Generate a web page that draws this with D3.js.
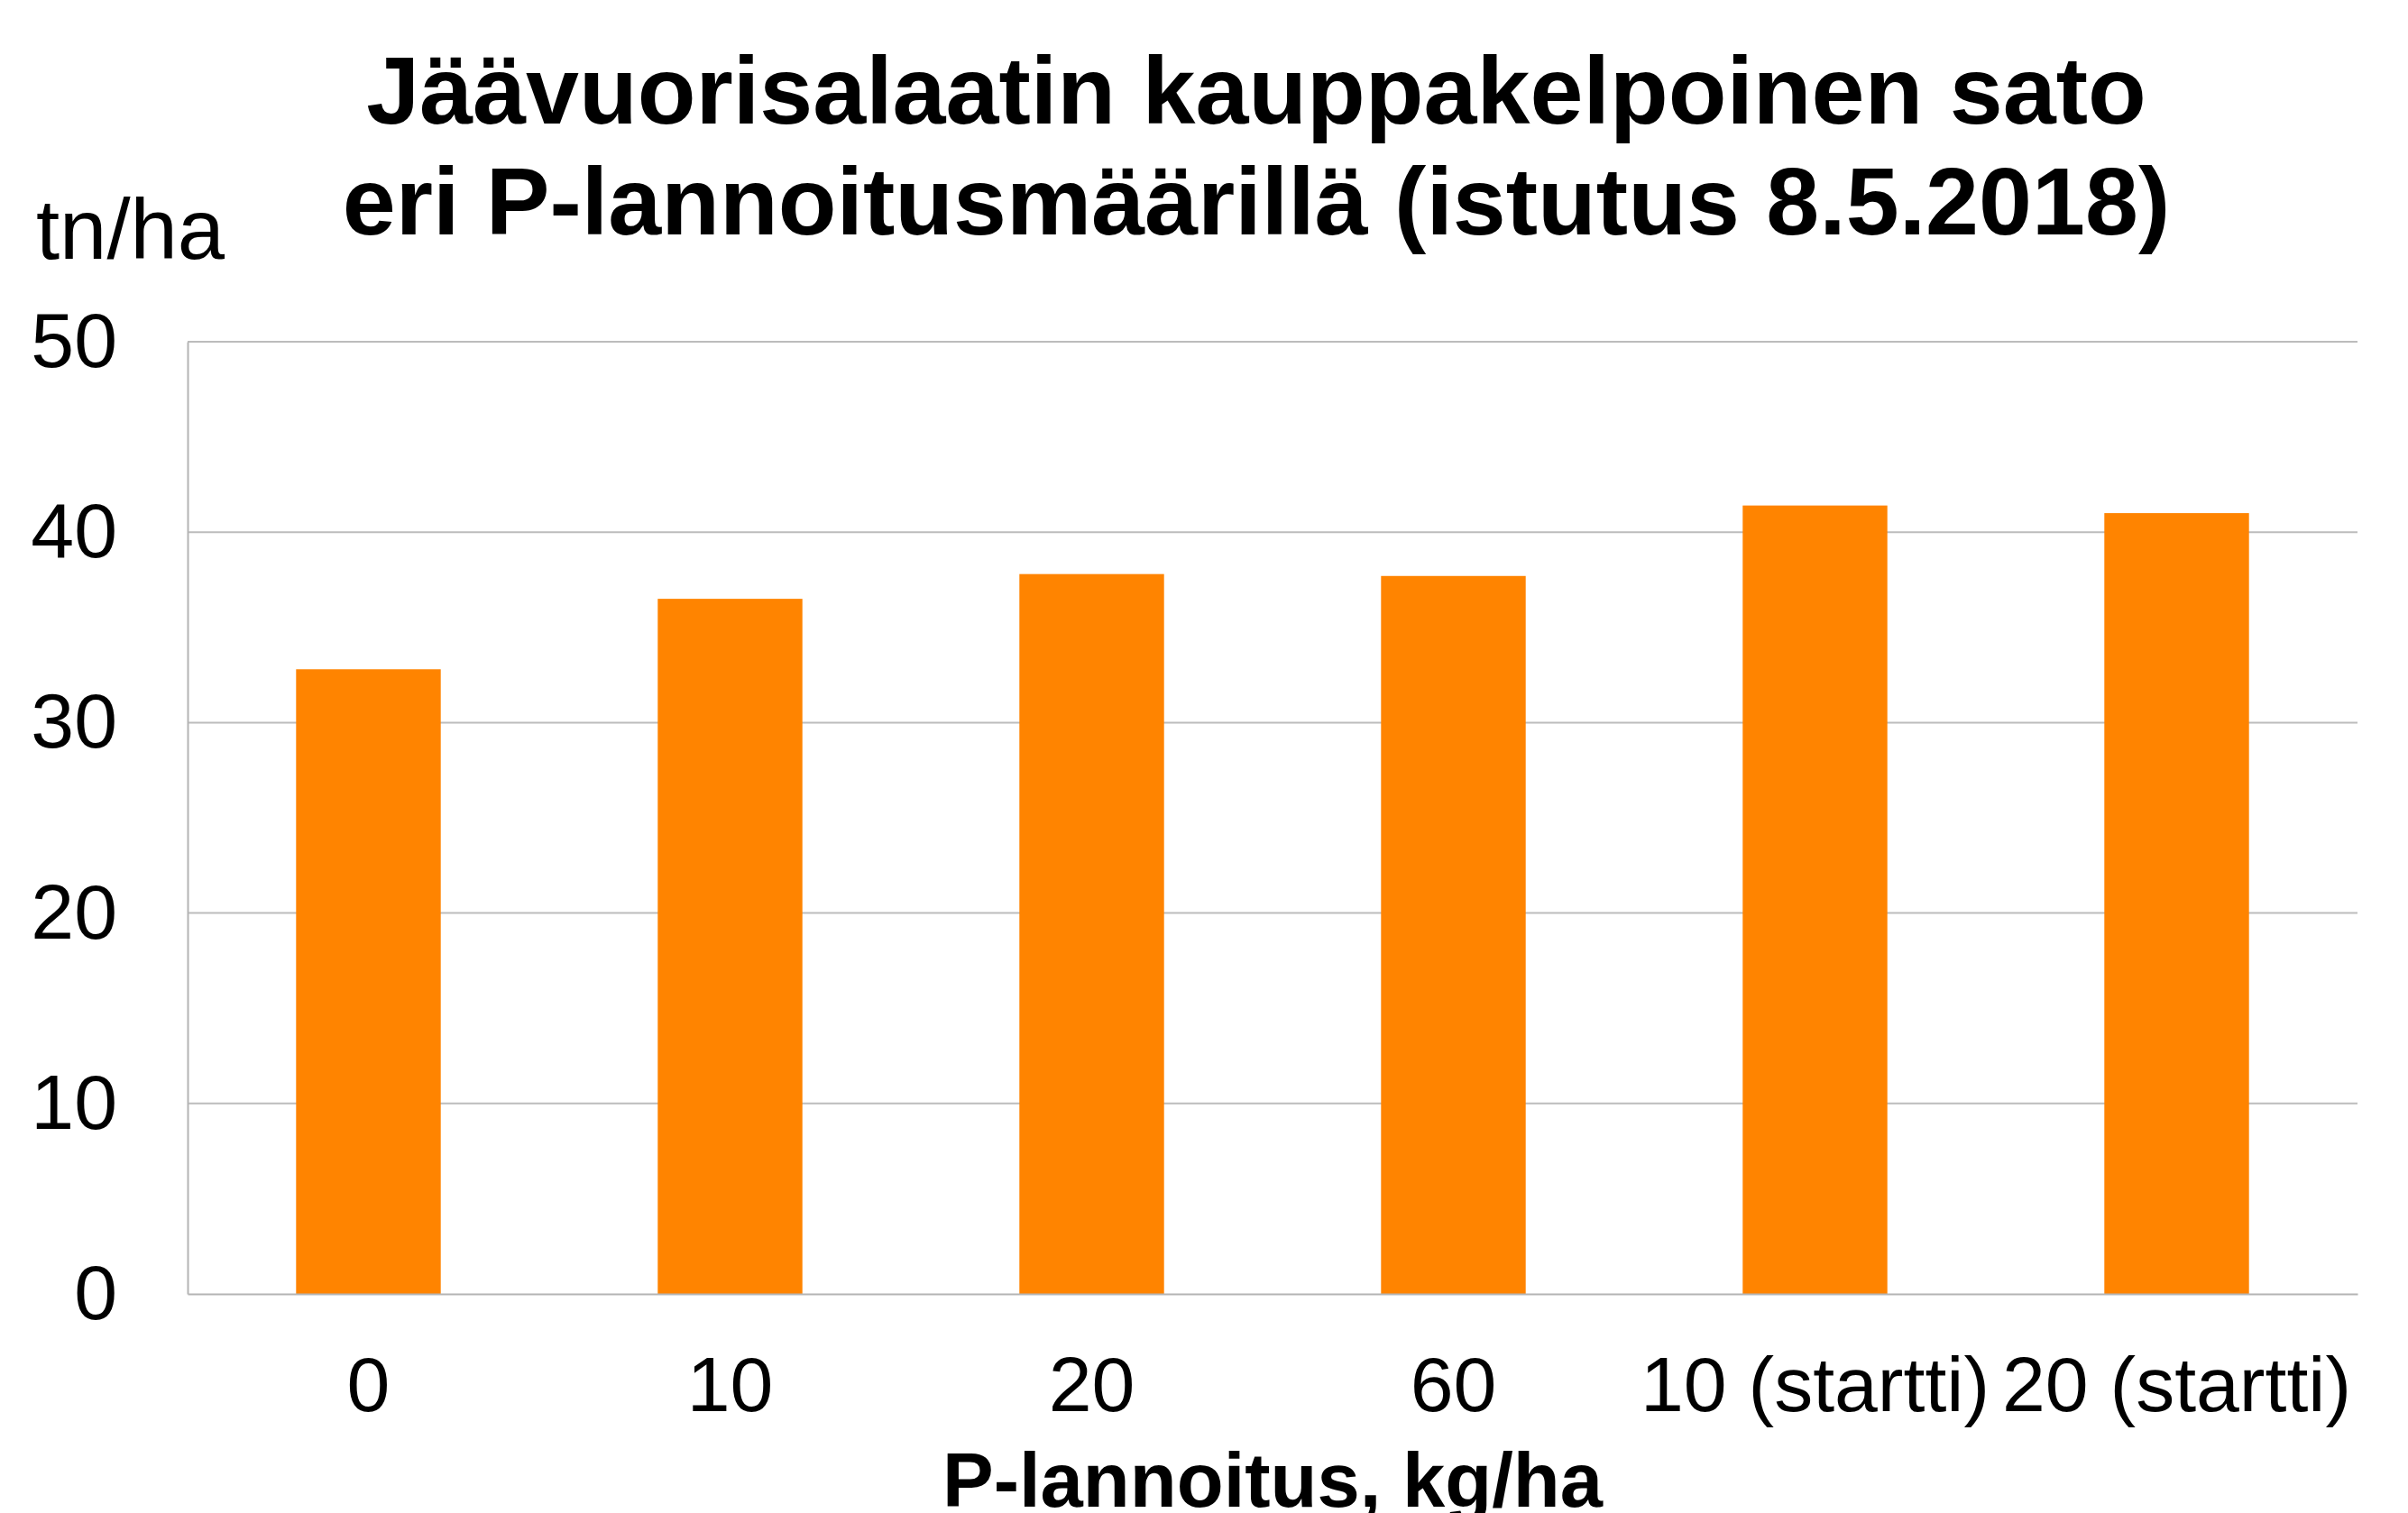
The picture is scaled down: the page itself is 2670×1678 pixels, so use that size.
<!DOCTYPE html>
<html><head><meta charset="utf-8">
<script src="https://cdn.jsdelivr.net/npm/d3@7"></script>
<style>html,body{margin:0;padding:0;background:#fff;}svg{display:block;}</style>
</head><body>
<script>
const categories = ["0", "10", "20", "60", "10 (startti)", "20 (startti)"];
const values = [32.8, 36.5, 37.8, 37.7, 41.4, 41.0];
const yTicks = [0, 10, 20, 30, 40, 50];
const titleLines = ["Jäävuorisalaatin kauppakelpoinen sato", "eri P-lannoitusmäärillä (istutus 8.5.2018)"];
const yUnit = "tn/ha";
const xTitle = "P-lannoitus, kg/ha";

const W = 2670, H = 1678;
const m = {left: 208, right: 2614, top: 379, bottom: 1435};
const font = "'Liberation Sans', Arial, sans-serif";

const svg = d3.select("body").append("svg").attr("width", W).attr("height", H);

const x = d3.scaleBand().domain(categories).range([m.left, m.right]).paddingInner(0.6).paddingOuter(0.3);
const y = d3.scaleLinear().domain([0, 50]).range([m.bottom, m.top]);

// gridlines
svg.append("g").selectAll("line").data(yTicks.filter(d => d > 0)).join("line")
  .attr("x1", m.left).attr("x2", m.right)
  .attr("y1", d => y(d)).attr("y2", d => y(d))
  .attr("stroke", "#bcbcbc").attr("stroke-width", 2);

// bars
svg.append("g").selectAll("rect").data(values).join("rect")
  .attr("x", (d, i) => x(categories[i]))
  .attr("width", x.bandwidth())
  .attr("y", d => y(d))
  .attr("height", d => y(0) - y(d))
  .attr("fill", "#ff8400");

// y axis
const yAxis = svg.append("g").attr("transform", `translate(${m.left},0)`)
  .call(d3.axisLeft(y).tickValues(yTicks).tickSize(0).tickPadding(78).tickFormat(d3.format("d")));
yAxis.select(".domain").attr("stroke", "#b4b4b4").attr("stroke-width", 2);
yAxis.selectAll("text").attr("font-family", font).attr("font-size", 86).attr("fill", "#000");

// x axis
const xAxis = svg.append("g").attr("transform", `translate(0,${m.bottom})`)
  .call(d3.axisBottom(x).tickSize(0).tickPadding(0));
xAxis.select(".domain").attr("stroke", "#b4b4b4").attr("stroke-width", 2);
xAxis.selectAll("text").attr("font-family", font).attr("font-size", 86).attr("fill", "#000")
  .attr("dy", null).attr("y", 130);

// title
svg.append("g").selectAll("text").data(titleLines).join("text")
  .attr("x", 1393).attr("y", (d, i) => 137 + i * 123)
  .attr("text-anchor", "middle").attr("font-family", font).attr("font-weight", "bold")
  .attr("font-size", 106).attr("fill", "#000").text(d => d);

// unit label
svg.append("text").attr("x", 40).attr("y", 287)
  .attr("font-family", font).attr("font-size", 94).attr("fill", "#000").text(yUnit);

// x title
svg.append("text").attr("x", (m.left + m.right) / 2).attr("y", 1671)
  .attr("text-anchor", "middle").attr("font-family", font).attr("font-weight", "bold")
  .attr("font-size", 85).attr("fill", "#000").text(xTitle);
</script>
</body></html>
